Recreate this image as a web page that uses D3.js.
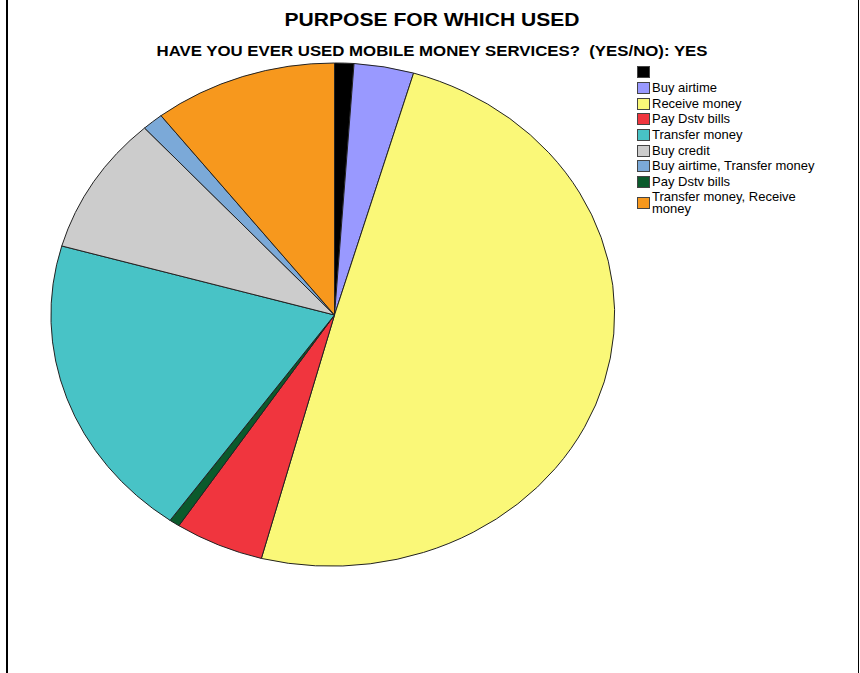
<!DOCTYPE html>
<html><head><meta charset="utf-8">
<script src="https://cdn.jsdelivr.net/npm/d3@7"></script>
<style>html,body{margin:0;padding:0;background:#fff;}svg{display:block;}</style>
</head><body>
<svg id="chart" width="860" height="673"></svg>
<script>
const title = "PURPOSE FOR WHICH USED";
const subtitle = "HAVE YOU EVER USED MOBILE MONEY SERVICES?  (YES/NO): YES";
// slices in drawing order (clockwise from 12 o'clock)
const sliceNames = ["", "Buy airtime", "Receive money", "Pay Dstv bills", "Pay Dstv bills ", "Transfer money", "Buy credit", "Buy airtime, Transfer money", "Transfer money, Receive money"];
const sliceValues = [1.1, 3.4, 49.7, 5.1, 0.6, 19.6, 8.9, 1.2, 10.5];
const sliceColors = ["#000000", "#9999ff", "#faf878", "#f0353e", "#0b5a2c", "#48c3c6", "#cccccc", "#7ba9d8", "#f7981d"];
// legend order
const legendNames = ["", "Buy airtime", "Receive money", "Pay Dstv bills", "Transfer money", "Buy credit", "Buy airtime, Transfer money", "Pay Dstv bills", "Transfer money, Receive money"];
const legendColors = ["#000000", "#9999ff", "#faf878", "#f0353e", "#48c3c6", "#cccccc", "#7ba9d8", "#0b5a2c", "#f7981d"];

const svg = d3.select("#chart");
const W = 860, H = 673;
svg.append("rect").attr("width", W).attr("height", H).attr("fill", "#fff");
svg.append("line").attr("x1", 7).attr("x2", 7).attr("y1", 0).attr("y2", H).attr("stroke", "#000").attr("stroke-width", 2);
svg.append("line").attr("x1", 858.5).attr("x2", 858.5).attr("y1", 0).attr("y2", H).attr("stroke", "#000").attr("stroke-width", 1);

svg.append("text").attr("x", 432).attr("y", 26).attr("text-anchor", "middle")
  .attr("font-family", "Liberation Sans, Arial, sans-serif").attr("font-weight", "bold").attr("font-size", 18.5).attr("fill", "#000")
  .attr("textLength", 295).attr("lengthAdjust", "spacingAndGlyphs")
  .text(title);
svg.append("text").attr("x", 432).attr("y", 56).attr("text-anchor", "middle")
  .attr("font-family", "Liberation Sans, Arial, sans-serif").attr("font-weight", "bold").attr("font-size", 15.5).attr("fill", "#000")
  .attr("textLength", 551).attr("lengthAdjust", "spacingAndGlyphs")
  .style("white-space", "pre")
  .text(subtitle);

const cx = 334.5, cy = 315, rx = 283.5, ry = 252;
const pie = d3.pie().sort(null).value(d => d.v);
const data = sliceValues.map((v, i) => ({v, c: sliceColors[i], name: sliceNames[i]}));
const arcs = pie(data);
const arc = d3.arc().innerRadius(0).outerRadius(1);
const g = svg.append("g").attr("transform", `translate(${cx},${cy}) scale(${rx},${ry})`);
g.selectAll("path").data(arcs).join("path")
  .attr("d", arc)
  .attr("fill", d => d.data.c)
  .attr("stroke", "#222")
  .attr("stroke-width", 1)
  .attr("vector-effect", "non-scaling-stroke");

const lg = svg.append("g").attr("font-family", "Liberation Sans, Arial, sans-serif").attr("font-size", 13);
const rowY = [66, 82, 98, 113, 129, 145, 160, 176, 197];
legendNames.forEach((name, i) => {
  const y = rowY[i];
  lg.append("rect").attr("x", 637.5).attr("y", y + 0.5).attr("width", 12).attr("height", 11)
    .attr("fill", legendColors[i]).attr("stroke", "#444").attr("stroke-width", 1);
  if (name === "Transfer money, Receive money") {
    lg.append("text").attr("x", 652).attr("y", y + 4).attr("fill", "#000").text("Transfer money, Receive");
    lg.append("text").attr("x", 652).attr("y", y + 16).attr("fill", "#000").text("money");
  } else {
    lg.append("text").attr("x", 652).attr("y", y + 10).attr("fill", "#000").text(name);
  }
});
</script>
</body></html>
